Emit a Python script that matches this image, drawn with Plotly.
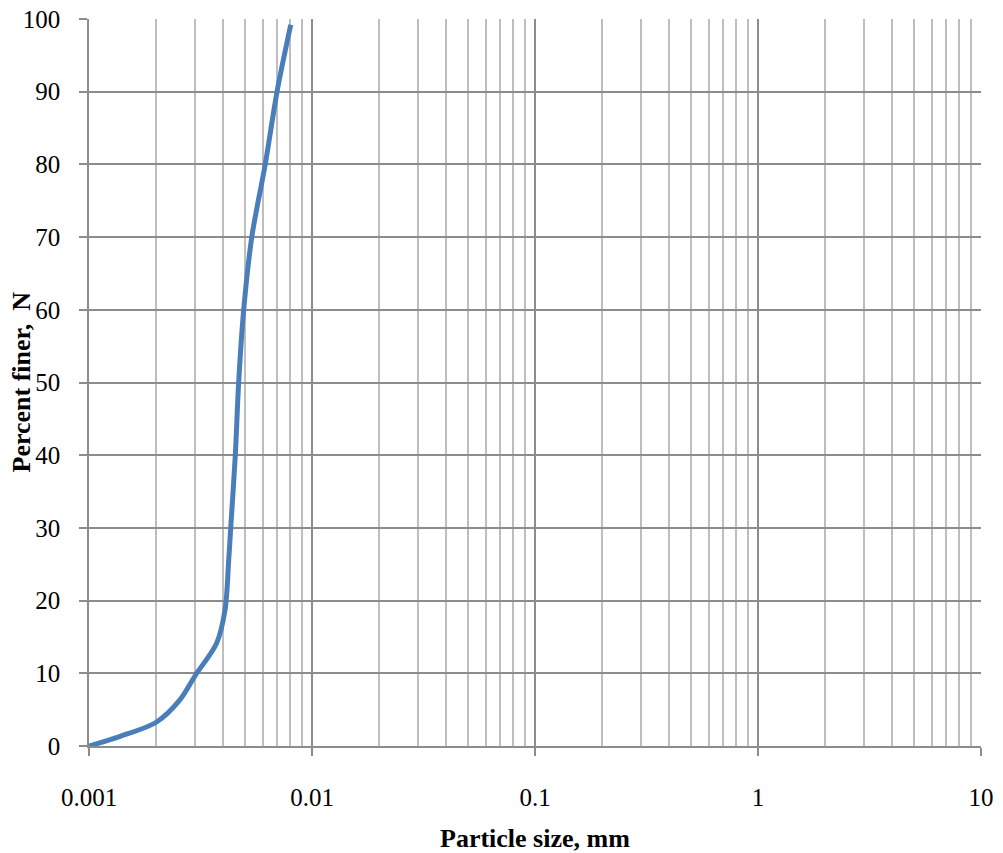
import plotly.graph_objects as go

# Data (particle size in mm, percent finer)
particle_size = [0.001, 0.00137, 0.00201, 0.00255, 0.00301, 0.00373,
                 0.004073, 0.004232, 0.00432, 0.00453, 0.00469, 0.00494,
                 0.00537, 0.00617, 0.00697, 0.00803]
percent_finer = [0, 1.3, 3.3, 6.3, 9.8, 14.1,
                 18.7, 25.6, 30, 40, 50, 60,
                 70, 80, 90, 99.2]

x_tick_vals = [0.001, 0.01, 0.1, 1, 10]
x_tick_text = ["0.001", "0.01", "0.1", "1", "10"]
y_tick_vals = [0, 10, 20, 30, 40, 50, 60, 70, 80, 90, 100]

FONT = "Liberation Serif, Times New Roman, serif"
TICK_SIZE = 25
TITLE_SIZE = 26

fig = go.Figure()
fig.add_trace(go.Scatter(
    x=particle_size, y=percent_finer, mode="lines",
    line=dict(color="#4A7EBB", width=5, shape="spline", smoothing=0.9),
    showlegend=False, hoverinfo="skip",
))

fig.update_layout(
    width=1003, height=853,
    margin=dict(l=89, r=22, t=19, b=107),
    paper_bgcolor="white", plot_bgcolor="white",
    font=dict(family=FONT, size=TICK_SIZE, color="black"),
    xaxis=dict(
        type="log", range=[-3, 1], automargin=False,
        tickvals=x_tick_vals, ticktext=x_tick_text,
        showgrid=True, gridcolor="#8C8C8C", gridwidth=1.5,
        minor=dict(dtick="D1", showgrid=True, gridcolor="#BEBEBE", gridwidth=1.5,
                   ticks=""),
        showline=True, linecolor="#8C8C8C", linewidth=1.5,
        ticks="outside", ticklen=8, tickcolor="#8C8C8C", tickwidth=1.5,
        ticklabelstandoff=20, ticklabeloverflow="allow",
        zeroline=False,
    ),
    yaxis=dict(
        range=[0, 100], tickvals=y_tick_vals, automargin=False,
        showgrid=True, gridcolor="#8C8C8C", gridwidth=1.5,
        showline=True, linecolor="#8C8C8C", linewidth=1.5,
        ticks="outside", ticklen=8, tickcolor="#8C8C8C", tickwidth=1.5,
        ticklabelstandoff=14, ticklabeloverflow="allow",
        zeroline=False,
    ),
    annotations=[
        dict(text="<b>Particle size, mm</b>", xref="paper", yref="paper",
             x=0.5, y=0, xanchor="center", yanchor="middle", yshift=-92,
             showarrow=False, font=dict(family=FONT, size=TITLE_SIZE, color="black")),
        dict(text="<b>Percent finer,\u00a0 N</b>", xref="paper", yref="paper",
             x=0, y=0.5, xanchor="center", yanchor="middle", xshift=-68,
             textangle=-90, showarrow=False,
             font=dict(family=FONT, size=TITLE_SIZE, color="black")),
    ],
)

fig.write_html(
    "out.html",
    config={"displayModeBar": False},
    post_script="document.body.style.margin='0';document.body.style.overflow='hidden';",
)
